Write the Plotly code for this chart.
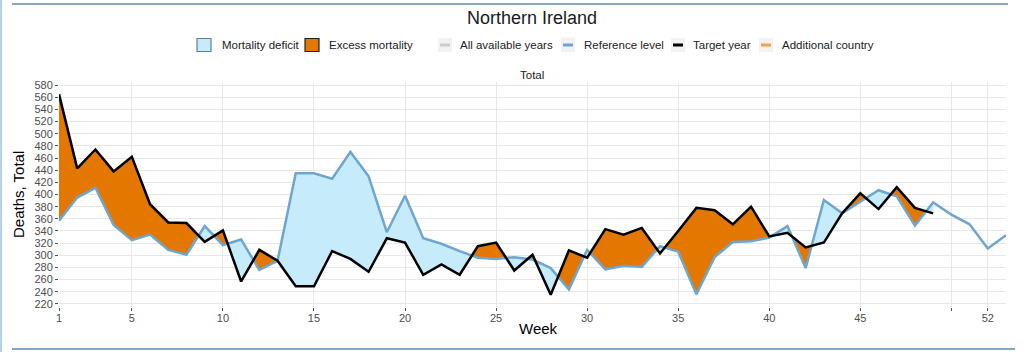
import plotly.graph_objects as go

# ---------------- data ----------------
weeks_ref = list(range(1, 54))
reference = [357, 395, 411, 350, 325, 334, 309, 301, 348, 317, 326, 276, 291, 435, 435, 426,
             470, 430, 338, 398, 328, 319, 307, 296, 294, 297, 293, 279, 244, 309, 277, 283,
             281, 315, 306, 236, 297, 322, 323, 329, 348, 279, 391, 369, 388, 407, 397, 349,
             387, 367, 351, 311, 333]
weeks_target = list(range(1, 50))
target = [565, 443, 474, 438, 462, 384, 354, 353, 322, 341, 257, 309, 291, 249, 249, 307,
          294, 273, 328, 321, 268, 285, 268, 315, 321, 275, 301, 235, 308, 296, 343, 334,
          345, 303, 340, 378, 374, 351, 380, 331, 337, 313, 321, 369, 402, 376, 412, 378, 369]
x_tickvals = [1, 5, 10, 15, 20, 25, 30, 35, 40, 45, 50, 52]
x_ticktext = ["1", "5", "10", "15", "20", "25", "30", "35", "40", "45", "", "52"]
y_tickvals = list(range(220, 581, 20))
legend_fill_items = ["Mortality deficit", "Excess mortality"]
legend_line_items = ["All available years", "Reference level", "Target year", "Additional country"]

# ---------------- styles ----------------
ORANGE = "#e37700"
LIGHTBLUE = "#c6ecfc"
REFBLUE = "#6fa6cf"
BLACK = "#000000"
GREY = "#cccccc"
ADDORANGE = "#f0a050"
GRID = "#e8e8e8"
FONT = "Liberation Sans, Arial, sans-serif"

# ---------------- build fill paths with crossing points ----------------
xs, ts, rs = [], [], []
n = len(weeks_target)
for i in range(n):
    xs.append(weeks_target[i]); ts.append(target[i]); rs.append(reference[i])
    if i < n - 1:
        d0 = target[i] - reference[i]
        d1 = target[i + 1] - reference[i + 1]
        if d0 * d1 < 0:
            f = d0 / (d0 - d1)
            xc = weeks_target[i] + f
            yc = target[i] + (target[i + 1] - target[i]) * f
            xs.append(xc); ts.append(yc); rs.append(yc)
upper = [max(a, b) for a, b in zip(ts, rs)]

fig = go.Figure()
# excess: between max(t,r) and r
fig.add_trace(go.Scatter(x=xs + xs[::-1], y=upper + rs[::-1], fill="toself",
                         fillcolor=ORANGE, line=dict(width=0), mode="lines",
                         hoverinfo="skip", showlegend=False))
# deficit: between max(t,r) and t
fig.add_trace(go.Scatter(x=xs + xs[::-1], y=upper + ts[::-1], fill="toself",
                         fillcolor=LIGHTBLUE, line=dict(width=0), mode="lines",
                         hoverinfo="skip", showlegend=False))
fig.add_trace(go.Scatter(x=weeks_ref, y=reference, mode="lines",
                         line=dict(color=REFBLUE, width=2.5), showlegend=False))
fig.add_trace(go.Scatter(x=weeks_target, y=target, mode="lines",
                         line=dict(color=BLACK, width=2.5), showlegend=False))

# ---------------- layout geometry (pixels) ----------------
W, H = 1024, 352
L, R, T, B = 59, 18, 82, 45
PW, PH = W - L - R, H - T - B


def px(xp):
    return (xp - L) / PW


def py(yp):
    return (H - B - yp) / PH


shapes = []
annotations = []

# manual legend
ly = 45
fill_legend = [(197, LIGHTBLUE, "#5f8096", 220), (305, ORANGE, "#222222", 327)]
for (bx, fc, bc, tx), label in zip(fill_legend, legend_fill_items):
    shapes.append(dict(type="rect", xref="paper", yref="paper",
                       x0=px(bx), x1=px(bx + 14), y0=py(ly + 6.5), y1=py(ly - 6.5),
                       fillcolor=fc, line=dict(color=bc, width=1.2)))
    annotations.append(dict(text=label, xref="paper", yref="paper", x=px(tx), y=py(ly),
                            xanchor="left", yanchor="middle", showarrow=False,
                            font=dict(size=11.5, color="#222222", family=FONT)))
line_legend = [(438, GREY, 458), (561, REFBLUE, 582), (671, BLACK, 691), (759, ADDORANGE, 780)]
for (ix, lc, tx), label in zip(line_legend, legend_line_items):
    shapes.append(dict(type="rect", xref="paper", yref="paper",
                       x0=px(ix), x1=px(ix + 14), y0=py(ly + 7), y1=py(ly - 7),
                       fillcolor="#f2f2f2", line=dict(width=0)))
    shapes.append(dict(type="line", xref="paper", yref="paper",
                       x0=px(ix + 2), x1=px(ix + 12), y0=py(ly), y1=py(ly),
                       line=dict(color=lc, width=3)))
    annotations.append(dict(text=label, xref="paper", yref="paper", x=px(tx), y=py(ly),
                            xanchor="left", yanchor="middle", showarrow=False,
                            font=dict(size=11.5, color="#222222", family=FONT)))

# subplot title
annotations.append(dict(text="Total", xref="paper", yref="paper", x=px(532), y=py(75),
                        xanchor="center", yanchor="middle", showarrow=False,
                        font=dict(size=11.5, color="#1a1a1a", family=FONT)))
# axis titles
annotations.append(dict(text="Deaths, Total", xref="paper", yref="paper", x=px(18), y=py(195),
                        xanchor="center", yanchor="middle", textangle=-90, showarrow=False,
                        font=dict(size=15, color="#000000", family=FONT)))
annotations.append(dict(text="Week", xref="paper", yref="paper", x=px(538), y=py(328),
                        xanchor="center", yanchor="middle", showarrow=False,
                        font=dict(size=15, color="#000000", family=FONT)))

# page decorations
shapes.append(dict(type="line", xref="paper", yref="paper", x0=px(12), x1=px(1008),
                   y0=py(4), y1=py(4), line=dict(color="#87a5c2", width=2)))
shapes.append(dict(type="line", xref="paper", yref="paper", x0=px(12), x1=px(1015),
                   y0=py(349), y1=py(349), line=dict(color="#87a5c2", width=2)))
shapes.append(dict(type="line", xref="paper", yref="paper", x0=px(1), x1=px(1),
                   y0=py(0), y1=py(352), line=dict(color="#b3d3ec", width=2)))

fig.update_layout(
    width=W, height=H,
    margin=dict(l=L, r=R, t=T, b=B, pad=0),
    paper_bgcolor="white", plot_bgcolor="white",
    showlegend=False,
    font=dict(family=FONT),
    title=dict(text="Northern Ireland", x=px(532), xref="paper", xanchor="center",
               y=1 - 18 / H, yanchor="middle", font=dict(size=18, color="#1a1a1a", family=FONT)),
    shapes=shapes, annotations=annotations,
)
fig.update_xaxes(range=[1, 53], tickmode="array", tickvals=x_tickvals, ticktext=x_ticktext,
                 showgrid=True, gridcolor=GRID, gridwidth=1, zeroline=False,
                 ticks="outside", ticklen=3, tickcolor="#555555", ticklabelstandoff=-2,
                 tickfont=dict(size=11, color="#4d4d4d", family=FONT), showline=False)
fig.update_yaxes(range=[215, 585], tickmode="array", tickvals=y_tickvals,
                 showgrid=True, gridcolor=GRID, gridwidth=1, zeroline=False,
                 ticks="outside", ticklen=3, tickcolor="#555555",
                 tickfont=dict(size=11, color="#4d4d4d", family=FONT), showline=False)

fig.write_html("out.html")
